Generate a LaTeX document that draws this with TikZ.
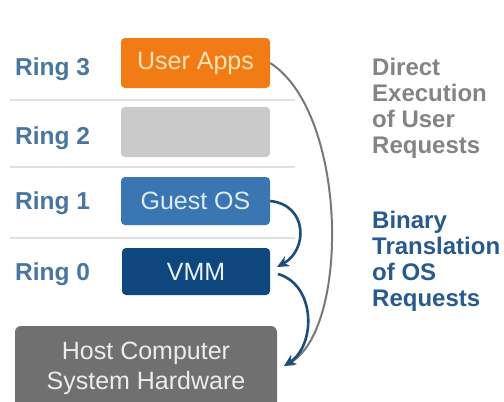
\documentclass[tikz,border=0pt]{standalone}
\usepackage{fontspec}
\setmainfont{Liberation Sans}
\usetikzlibrary{arrows.meta}
\definecolor{orangebox}{RGB}{241,124,22}
\definecolor{ringtwo}{RGB}{202,202,202}
\definecolor{guestbox}{RGB}{58,118,178}
\definecolor{vmmbox}{RGB}{14,70,126}
\definecolor{hostbox}{RGB}{112,112,112}
\definecolor{ringlbl}{RGB}{72,118,160}
\definecolor{directtxt}{RGB}{132,132,132}
\definecolor{binarytxt}{RGB}{40,90,142}
\definecolor{grayarrow}{RGB}{120,120,120}
\definecolor{bluearrow}{RGB}{28,78,124}
\definecolor{sepline}{RGB}{224,224,224}
\tikzset{
  ringbox/.style={rounded corners=4pt, inner sep=0pt, minimum width=149pt, minimum height=49pt,
    font=\fontsize{25}{30}\selectfont},
  ringlabel/.style={anchor=base west, inner sep=0pt, text=ringlbl, font=\bfseries\fontsize{24.5}{29}\selectfont},
  sidetext/.style={anchor=base west, inner sep=0pt, font=\bfseries\fontsize{24}{26}\selectfont},
  sep/.style={draw=sepline, line width=1.5pt},
  grayconn/.style={draw=grayarrow, line width=2pt, -{Stealth[length=11pt,width=10pt]}},
  blueconn/.style={draw=bluearrow, line width=2.6pt, -{Stealth[length=12pt,width=11pt]}},
}
\begin{document}
\begin{tikzpicture}[x=1pt,y=-1pt]
\useasboundingbox (0,0) rectangle (504,402);
\clip (0,0) rectangle (504,402);
\fill[white] (0,0) rectangle (504,402);

% separators
\draw[sep] (10,100) coordinate (s1a) -- (295,100) coordinate (s1b);
\draw[sep] (10,167) coordinate (s2a) -- (295,167) coordinate (s2b);
\draw[sep] (10,238) coordinate (s3a) -- (295,238) coordinate (s3b);

% boxes
\node[ringbox, fill=orangebox, text={rgb,255:red,255;green,226;blue,180}, minimum height=50pt] (user) at (195.5,63) {User Apps};
\node[ringbox, fill=ringtwo, minimum height=50pt] (r2box) at (195.5,132) {};
\node[ringbox, fill=guestbox, text={rgb,255:red,222;green,234;blue,246}, minimum height=48pt] (guest) at (195.5,201) {Guest OS};
\node[ringbox, fill=vmmbox, text={rgb,255:red,232;green,240;blue,248}, minimum width=148pt, minimum height=47pt] (vmm) at (196,271.5) {VMM};
\node[rounded corners=6pt, fill=hostbox, text={rgb,255:red,236;green,236;blue,236}, inner sep=0pt,
  minimum width=262pt, minimum height=84pt, align=center, font=\fontsize{25}{30}\selectfont] (host) at (146,368)
  {Host Computer\\System Hardware};

% ring labels
\node[ringlabel] (l3) at (15,75) {Ring 3};
\node[ringlabel] (l2) at (15,144) {Ring 2};
\node[ringlabel] (l1) at (15,209) {Ring 1};
\node[ringlabel] (l0) at (15,280) {Ring 0};

% right texts
\node[sidetext, text=directtxt] (d1) at (372,75) {Direct};
\node[sidetext, text=directtxt] (d2) at (372,101) {Execution};
\node[sidetext, text=directtxt] (d3) at (372,127) {of User};
\node[sidetext, text=directtxt] (d4) at (372,153) {Requests};
\node[sidetext, text=binarytxt] (b1) at (372,228) {Binary};
\node[sidetext, text=binarytxt] (b2) at (372,254) {Translation};
\node[sidetext, text=binarytxt] (b3) at (372,280) {of OS};
\node[sidetext, text=binarytxt] (b4) at (372,306) {Requests};

% connectors
\coordinate (hostin) at (284,366);
\coordinate (vmmin) at (277,267);
\coordinate (vmmout) at (278,274);
\draw[grayconn] (user.east) .. controls (348,113) and (350,330) .. (hostin);
\draw[blueconn] (guest.east) .. controls (308,205) and (308,250) .. (vmmin);
\draw[blueconn] (vmmout) .. controls (316,285) and (316,345) .. (hostin);
\end{tikzpicture}
\end{document}
